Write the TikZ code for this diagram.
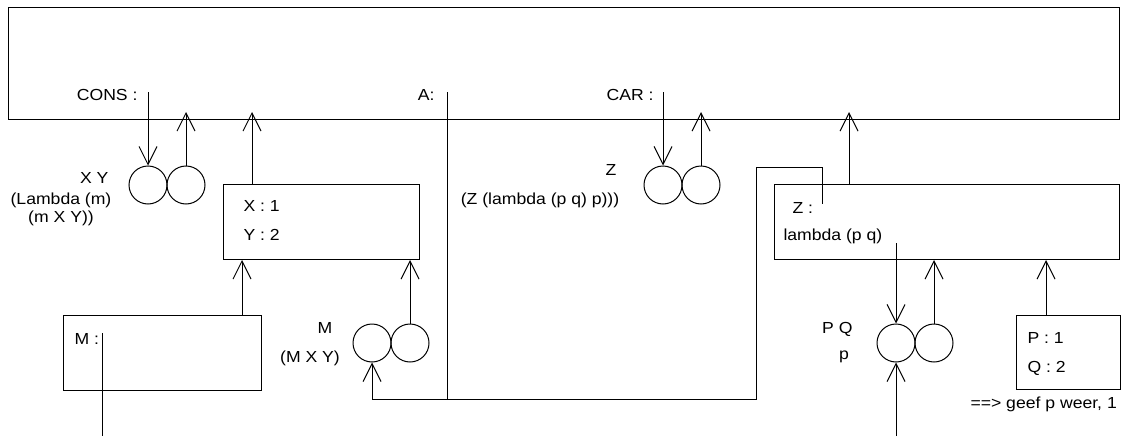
\documentclass[tikz,border=0pt]{standalone}
\usepackage{fontspec}
\setmainfont{Liberation Sans}[FakeStretch=1.1]
\usetikzlibrary{arrows.meta}
\begin{document}
\begin{tikzpicture}[x=1pt,y=-1pt,line width=1pt,
  tip/.style={-{Straight Barb[length=18pt,width=18pt,line width=1pt]}},
  up/.style={tip,shorten >=-8pt},
  box/.style={draw,rectangle,inner sep=0pt,anchor=north west},
  ring/.style={draw,circle,minimum size=38pt,inner sep=0pt},
  lbl/.style={font=\fontsize{16}{19}\selectfont,inner sep=0pt}]
\useasboundingbox (0,0) rectangle (1131,436);
% boxes
\node[box,minimum width=1111pt,minimum height=112pt] (env) at (8,7) {};
\node[box,minimum width=196pt,minimum height=75pt] (xy) at (223,184) {};
\node[box,minimum width=198pt,minimum height=75pt] (mb) at (63,315) {};
\node[box,minimum width=345pt,minimum height=75pt] (zb) at (774,184) {};
\node[box,minimum width=104pt,minimum height=74pt] (pq) at (1016,315) {};
% circles
\node[ring] (c1a) at (148,185) {};
\node[ring] (c1b) at (186,185) {};
\node[ring] (c2a) at (663,185) {};
\node[ring] (c2b) at (701,185) {};
\node[ring] (c3a) at (372,343) {};
\node[ring] (c3b) at (410,343) {};
\node[ring] (c4a) at (896,343) {};
\node[ring] (c4b) at (934,343) {};
% coordinates
\coordinate (consS) at (148,92);
\coordinate (carS) at (663,92);
\coordinate (aTop) at (447,92);
\coordinate (aBot) at (447,399);
\coordinate (xyT) at (252,184);
\coordinate (mT) at (242,315);
\coordinate (mS) at (102,333);
\coordinate (mEnd) at (102,436);
\coordinate (zbT) at (849,184);
\coordinate (zEnd) at (822,204);
\coordinate (lamS) at (896,243);
\coordinate (pB) at (896,436);
\coordinate (pqT) at (1046,315);
% connectors
\draw[tip] (consS) -- (c1a.north);
\draw[up] (c1b.north) -- (c1b.north |- env.south);
\draw[up] (xyT) -- (xyT |- env.south);
\draw (aTop) -- (aBot);
\draw[tip] (aBot) -| (c3a.south);
\draw (aBot) -- (756,399) -- (756,167) -| (zEnd);
\draw[tip] (mT) -- (mT |- xy.south);
\draw[tip] (c3b.north) -- (c3b.north |- xy.south);
\draw (mS) -- (mEnd);
\draw[tip] (carS) -- (c2a.north);
\draw[up] (c2b.north) -- (c2b.north |- env.south);
\draw[up] (zbT) -- (zbT |- env.south);
\draw[tip] (lamS) -- (c4a.north);
\draw[tip] (c4b.north) -- (c4b.north |- zb.south);
\draw[tip] (pB) -- (c4a.south);
\draw[tip] (pqT) -- (pqT |- pq.north |- zb.south);
% labels
\node[lbl,anchor=base east] (tcons) at (138,100) {CONS :};
\node[lbl,anchor=base east] (ta) at (435,100) {A:};
\node[lbl,anchor=base east] (tcar) at (654,100) {CAR :};
\node[lbl,anchor=base east] (txy) at (109,183) {X Y};
\node[lbl,anchor=base] (tlam1) at (61,204) {(Lambda (m)};
\node[lbl,anchor=base] (tlam2) at (61,222) {(m X Y))};
\node[lbl,anchor=base west] (tx1) at (243,211) {X : 1};
\node[lbl,anchor=base west] (ty2) at (243,240) {Y : 2};
\node[lbl,anchor=base west] (tm) at (74,344) {M :};
\node[lbl,anchor=base] (tmm) at (325,333) {M};
\node[lbl,anchor=base] (tmxy) at (310,362) {(M X Y)};
\node[lbl,anchor=base] (tz) at (611,175) {Z};
\node[lbl,anchor=base] (tzl) at (540,204) {(Z (lambda (p q) p)))};
\node[lbl,anchor=base west] (tzc) at (792,213) {Z :};
\node[lbl,anchor=base west] (tlpq) at (783,240) {lambda (p q)};
\node[lbl,anchor=base east] (tpq) at (853,333) {P Q};
\node[lbl,anchor=base] (tp) at (844,359) {p};
\node[lbl,anchor=base west] (tp1) at (1027,343) {P : 1};
\node[lbl,anchor=base west] (tq2) at (1027,372) {Q : 2};
\node[lbl,anchor=base west] (tgeef) at (970,408) {==> geef p weer, 1};
\end{tikzpicture}
\end{document}
